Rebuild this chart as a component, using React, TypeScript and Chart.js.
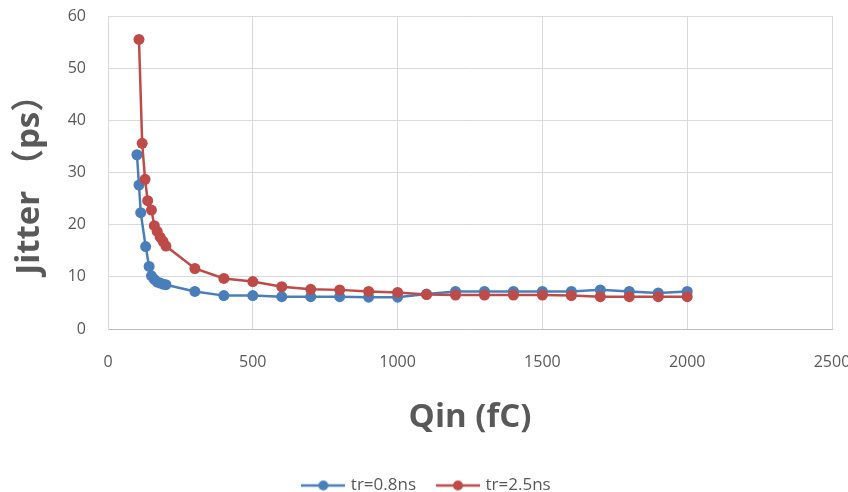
import React, { useEffect, useRef } from "react";
import { Chart, registerables } from "chart.js";

Chart.register(...registerables);

const seriesNames = ["tr=0.8ns", "tr=2.5ns"];
const seriesColors = ["#4a7ebb", "#be4b48"];

const blueX = [100, 107, 113, 130, 142, 150, 160, 170, 180, 190, 200, 300, 400, 500, 600, 700, 800, 900, 1000, 1100, 1200, 1300, 1400, 1500, 1600, 1700, 1800, 1900, 2000];
const blueY = [33.4, 27.6, 22.3, 15.8, 12.0, 10.2, 9.5, 9.0, 8.8, 8.6, 8.5, 7.2, 6.4, 6.4, 6.2, 6.2, 6.2, 6.1, 6.1, 6.7, 7.2, 7.2, 7.2, 7.2, 7.2, 7.5, 7.2, 6.9, 7.2];

const redX = [107, 118, 128, 137, 150, 160, 170, 180, 190, 200, 300, 400, 500, 600, 700, 800, 900, 1000, 1100, 1200, 1300, 1400, 1500, 1600, 1700, 1800, 1900, 2000];
const redY = [55.5, 35.6, 28.7, 24.6, 22.8, 19.8, 18.7, 17.6, 16.8, 15.9, 11.6, 9.7, 9.1, 8.1, 7.6, 7.5, 7.2, 7.0, 6.6, 6.5, 6.5, 6.5, 6.5, 6.4, 6.2, 6.2, 6.2, 6.2];

const xMin = 0;
const xMax = 2500;
const xStep = 500;
const yMin = 0;
const yMax = 60;
const yStep = 10;

const xTitle = "Qin (fC)";
const yTitle = "Jitter （ps） ";

const FONT = "'Open Sans', 'Noto Sans CJK SC', sans-serif";

function makeLegendImage(color: string): HTMLCanvasElement {
  const c = document.createElement("canvas");
  c.width = 44;
  c.height = 14;
  const ctx = c.getContext("2d")!;
  ctx.strokeStyle = color;
  ctx.lineWidth = 2.5;
  ctx.beginPath();
  ctx.moveTo(0, 7);
  ctx.lineTo(44, 7);
  ctx.stroke();
  ctx.fillStyle = color;
  ctx.beginPath();
  ctx.arc(22, 7, 5, 0, Math.PI * 2);
  ctx.fill();
  return c;
}

export default function App() {
  const ref = useRef<HTMLCanvasElement | null>(null);

  useEffect(() => {
    if (!ref.current) return;
    const images = seriesColors.map((c) => makeLegendImage(c));
    const toPts = (xs: number[], ys: number[]) => xs.map((x, i) => ({ x, y: ys[i] }));
    const chart = new Chart(ref.current, {
      type: "scatter",
      data: {
        datasets: [
          {
            label: seriesNames[0],
            data: toPts(blueX, blueY),
            showLine: true,
            borderColor: seriesColors[0],
            backgroundColor: seriesColors[0],
            borderWidth: 2.5,
            pointRadius: 5.5,
            pointBorderWidth: 0,
            order: 1,
          },
          {
            label: seriesNames[1],
            data: toPts(redX, redY),
            showLine: true,
            borderColor: seriesColors[1],
            backgroundColor: seriesColors[1],
            borderWidth: 2.5,
            pointRadius: 5.5,
            pointBorderWidth: 0,
            order: 0,
          },
        ],
      },
      options: {
        animation: false,
        responsive: false,
        layout: { padding: { left: 7, right: 0, top: 16, bottom: -12 } },
        plugins: {
          tooltip: { enabled: false },
          legend: {
            position: "bottom",
            labels: {
              usePointStyle: true,
              pointStyleWidth: 38,
              boxHeight: 14,
              padding: 23,
              color: "#595959",
              font: { family: FONT, size: 17 },
              generateLabels: () =>
                seriesNames.map((name, i) => ({
                  text: name,
                  datasetIndex: i,
                  pointStyle: images[i] as any,
                  fillStyle: seriesColors[i],
                  strokeStyle: seriesColors[i],
                  lineWidth: 0,
                  hidden: false,
                  fontColor: "#595959",
                })),
            },
          },
        },
        scales: {
          x: {
            type: "linear",
            min: xMin,
            max: xMax,
            ticks: {
              stepSize: xStep,
              padding: 24,
              color: "#595959",
              font: { family: FONT, size: 16 },
              callback: (v: any) => String(v),
            },
            grid: { color: "#d9d9d9", lineWidth: 1, drawTicks: false },
            border: { color: "#bfbfbf", width: 1 },
            title: {
              display: true,
              text: xTitle,
              color: "#595959",
              font: { family: FONT, size: 33, weight: "bold" },
              padding: { top: 0, bottom: 17 },
            },
            afterFit: (s: any) => {
              s.height = 125;
              s.paddingRight = 16;
            },
          },
          y: {
            type: "linear",
            min: yMin,
            max: yMax,
            ticks: {
              stepSize: yStep,
              padding: 22,
              color: "#595959",
              font: { family: FONT, size: 16 },
              callback: (v: any) => String(v),
            },
            grid: { color: "#d9d9d9", lineWidth: 1, drawTicks: false },
            border: { color: "#d9d9d9", width: 1 },
            title: {
              display: true,
              text: yTitle,
              color: "#595959",
              font: { family: FONT, size: 33, weight: "bold" },
              padding: { top: 3, bottom: 0 },
            },
            afterFit: (s: any) => {
              s.width = 101;
              s.paddingTop = 0;
              s.paddingBottom = 0;
            },
          },
        },
      },
    });
    return () => chart.destroy();
  }, []);

  return (
    <div style={{ position: "absolute", left: 0, top: 0, width: 848, height: 492, background: "#fff" }}>
      <canvas ref={ref} width={848} height={492} style={{ width: 848, height: 492, display: "block" }} />
    </div>
  );
}
